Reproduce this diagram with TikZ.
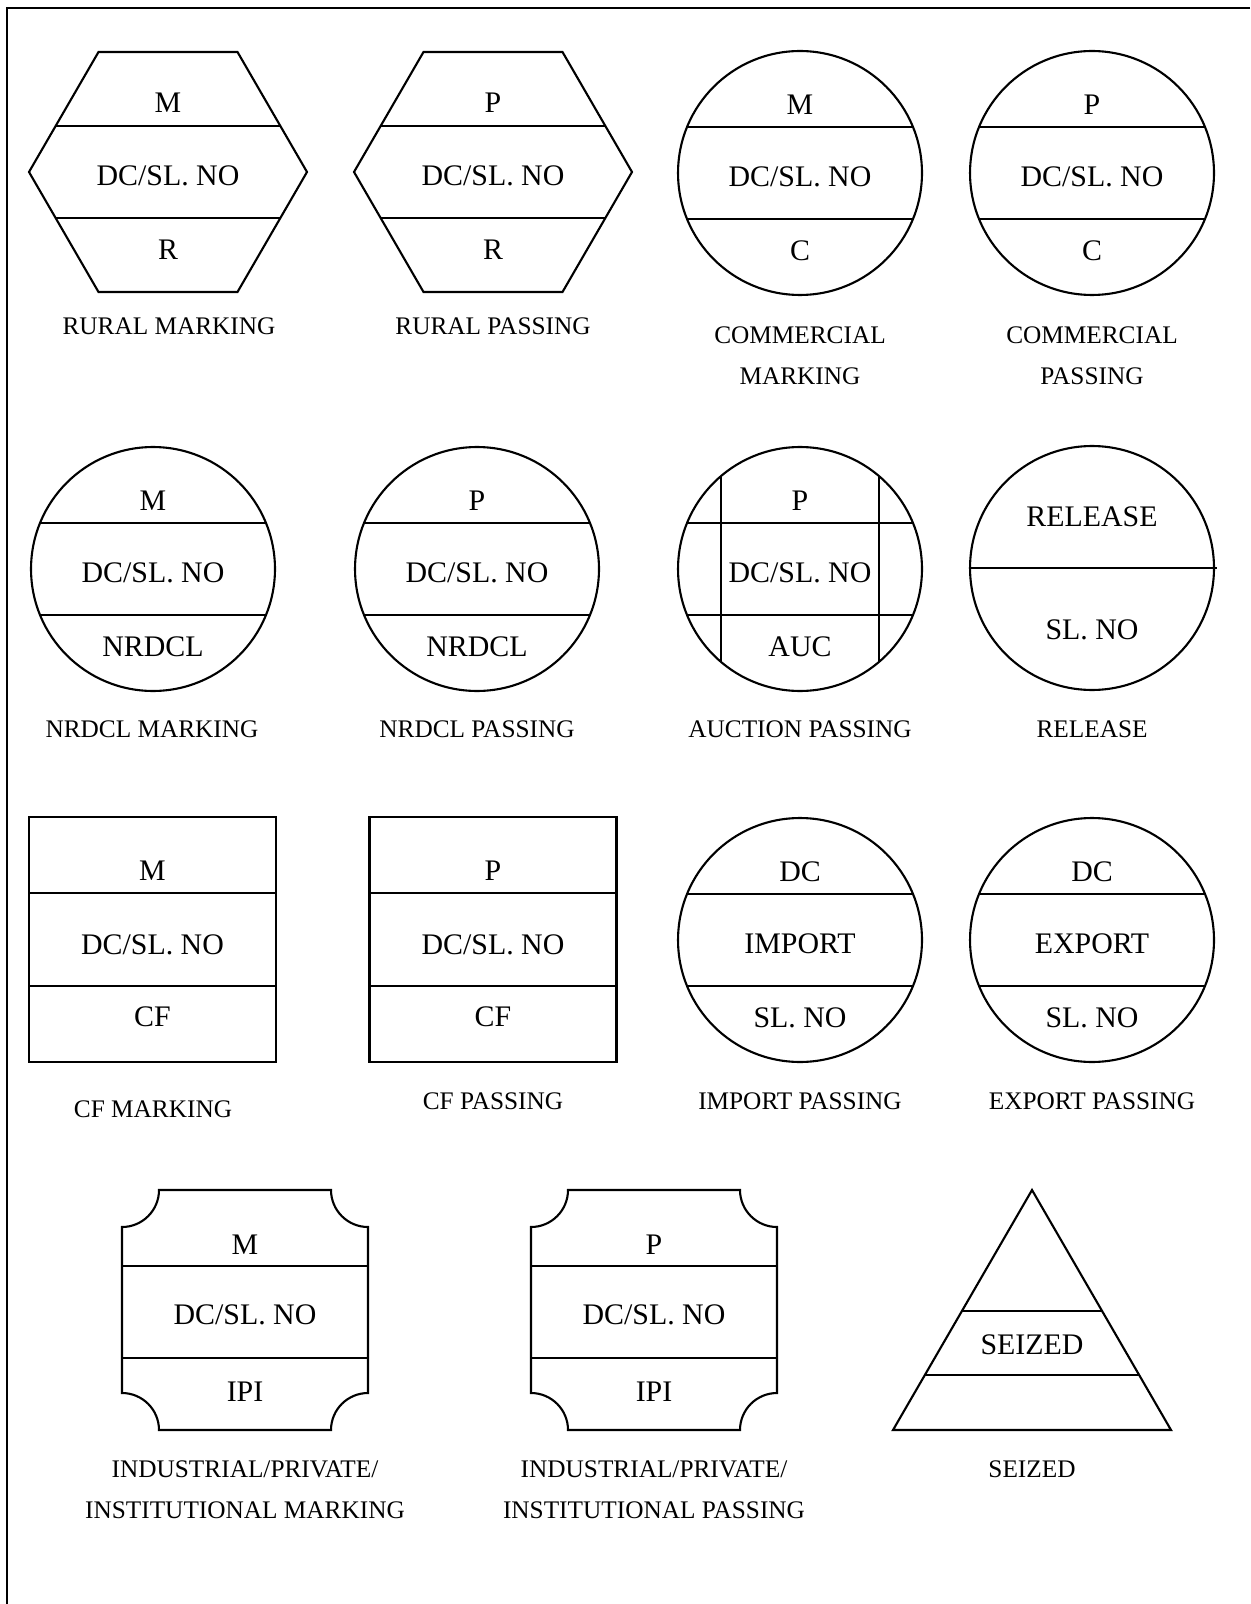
\documentclass[tikz,border=0pt]{standalone}
\usepackage{fontspec}
\setmainfont{Liberation Serif}
\usetikzlibrary{calc}

\begin{document}
\begin{tikzpicture}[x=0.02cm, y=-0.02cm, line width=1.2pt,
  ring/.style={draw, circle, minimum size=4.88cm, inner sep=0pt, outer sep=0pt},
  sqbox/.style={draw, minimum width=4.94cm, minimum height=4.9cm, inner sep=0pt, outer sep=0pt},
  txt/.style={font=\fontsize{17}{20}\selectfont, inner sep=0pt, text height=11.2pt, text depth=0pt},
  lbl/.style={font=\fontsize{14.4}{17}\selectfont, inner sep=0pt, text height=9.4pt, text depth=0pt}]

\useasboundingbox (0,0) rectangle (1250,1604);
\draw[line width=1.5pt] (1250,8) -- (7,8) -- (7,1604);

% hexagons (rural)
\foreach \n/\cx/\t in {hrm/168/M, hrp/493/P} {
  \begin{scope}[shift={(\cx,172)}]
    \draw (-69.5,-120) -- (69.5,-120) -- (139,0) -- (69.5,120) -- (-69.5,120) -- (-139,0) -- cycle;
    \draw (-112.4,-46) -- (112.4,-46);
    \draw (-112.4,46) -- (112.4,46);
    \node[txt] (\n-t) at (0,-69) {\t};
    \node[txt] (\n-m) at (0,4) {DC/SL. NO};
    \node[txt] (\n-b) at (0,78) {R};
  \end{scope}
}

% circles with three bands
\foreach \n/\cx/\cy/\t/\m/\b in {ccm/800/173/M/{DC/SL. NO}/C, ccp/1092/173/P/{DC/SL. NO}/C,
    cnm/153/569/M/{DC/SL. NO}/NRDCL, cnp/477/569/P/{DC/SL. NO}/NRDCL, cau/800/569/P/{DC/SL. NO}/AUC,
    cim/800/940/DC/IMPORT/SL. NO, cex/1092/940/DC/EXPORT/SL. NO} {
  \node[ring] (\n) at (\cx,\cy) {};
  \draw ($(\n)+(-113,-46)$) -- ($(\n)+(113,-46)$);
  \draw ($(\n)+(-113,46)$) -- ($(\n)+(113,46)$);
  \node[txt] (\n-t) at (\cx,\cy-68) {\t};
  \node[txt] (\n-m) at (\cx,\cy+4) {\m};
  \node[txt] (\n-b) at (\cx,\cy+78) {\b};
}
\draw ($(cau)+(-79,-93)$) -- ($(cau)+(-79,93)$);
\draw ($(cau)+(79,-93)$) -- ($(cau)+(79,93)$);

% release
\node[ring] (crel) at (1092,568) {};
\draw (crel.west) -- ($(crel.east)+(3,0)$);
\node[txt] (crel-t) at (1092,517) {RELEASE};
\node[txt] (crel-b) at (1092,630) {SL. NO};

% squares (CF)
\foreach \n/\cx/\t in {sqm/152.5/M, sqp/493/P} {
  \node[sqbox] (\n) at (\cx,939.5) {};
  \draw ($(\n.west)+(0,-46.5)$) -- ($(\n.east)+(0,-46.5)$);
  \draw ($(\n.west)+(0,46.5)$) -- ($(\n.east)+(0,46.5)$);
  \node[txt] (\n-t) at (\cx,871) {\t};
  \node[txt] (\n-m) at (\cx,945) {DC/SL. NO};
  \node[txt] (\n-b) at (\cx,1017) {CF};
}

% notched boxes (IPI)
\foreach \n/\cx/\t in {ipm/245/M, ipp/654/P} {
  \begin{scope}[shift={(\cx,1310)}]
    \draw (-86,-120) -- (86,-120) .. controls (86,-99.6) and (102.6,-83) .. (123,-83)
      -- (123,83) .. controls (102.6,83) and (86,99.6) .. (86,120)
      -- (-86,120) .. controls (-86,99.6) and (-102.6,83) .. (-123,83)
      -- (-123,-83) .. controls (-102.6,-83) and (-86,-99.6) .. (-86,-120) -- cycle;
    \draw (-123,-44) -- (123,-44);
    \draw (-123,48) -- (123,48);
    \node[txt] (\n-t) at (0,-65) {\t};
    \node[txt] (\n-m) at (0,5) {DC/SL. NO};
    \node[txt] (\n-b) at (0,82) {IPI};
  \end{scope}
}

% triangle (seized)
\draw (1032,1190) -- (1171,1430) -- (893,1430) -- cycle;
\draw (961.9,1311) -- (1102.1,1311);
\draw (924.9,1375) -- (1139.1,1375);
\node[txt] (sz-m) at (1032,1345) {SEIZED};

% captions
\node[lbl] (l-rm) at (169,326) {RURAL MARKING};
\node[lbl] (l-rp) at (493,326) {RURAL PASSING};
\node[lbl] (l-cm1) at (800,335) {COMMERCIAL};
\node[lbl] (l-cm2) at (800,376) {MARKING};
\node[lbl] (l-cp1) at (1092,335) {COMMERCIAL};
\node[lbl] (l-cp2) at (1092,376) {PASSING};
\node[lbl] (l-nm) at (152,729) {NRDCL MARKING};
\node[lbl] (l-np) at (477,729) {NRDCL PASSING};
\node[lbl] (l-ap) at (800,729) {AUCTION PASSING};
\node[lbl] (l-rel) at (1092,729) {RELEASE};
\node[lbl] (l-cfm) at (153,1109) {CF MARKING};
\node[lbl] (l-cfp) at (493,1101) {CF PASSING};
\node[lbl] (l-im) at (800,1101) {IMPORT PASSING};
\node[lbl] (l-ex) at (1092,1101) {EXPORT PASSING};
\node[lbl] (l-ipm1) at (245,1469) {INDUSTRIAL/PRIVATE/};
\node[lbl] (l-ipm2) at (245,1510) {INSTITUTIONAL MARKING};
\node[lbl] (l-ipp1) at (654,1469) {INDUSTRIAL/PRIVATE/};
\node[lbl] (l-ipp2) at (654,1510) {INSTITUTIONAL PASSING};
\node[lbl] (l-sz) at (1032,1469) {SEIZED};
\end{tikzpicture}
\end{document}
